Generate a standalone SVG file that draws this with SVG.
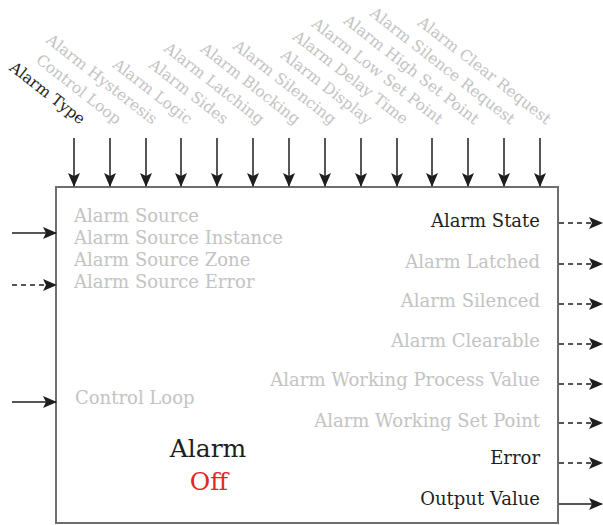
<svg xmlns="http://www.w3.org/2000/svg" width="603" height="525" viewBox="0 0 603 525">
<defs>
<marker id="ah" markerUnits="userSpaceOnUse" markerWidth="14" markerHeight="12" viewBox="0 0 14 12" refX="13" refY="6" orient="auto">
<path d="M0,0 L14,6 L0,12 L3,6 z" fill="#1e1e1e"/>
</marker>
<style>
.t{font-family:"DejaVu Serif","Liberation Serif",serif;font-size:18px}
.r{font-family:"DejaVu Serif","Liberation Serif",serif;font-size:15.5px;text-anchor:end}
.g{fill:#c3c3c3}
.k{fill:#1e1e1e}
.e{text-anchor:end}
.c{stroke:#1e1e1e;stroke-width:1.5;fill:none;marker-end:url(#ah)}
.d{stroke-dasharray:5,4}
</style>
</defs>
<g id="alarm">
<rect x="56" y="187" width="502" height="336" fill="#fff" stroke="#6e6e6e" stroke-width="2"/>
<text class="t g" x="74" y="222">Alarm Source</text>
<text class="t g" x="74" y="244">Alarm Source Instance</text>
<text class="t g" x="74" y="266">Alarm Source Zone</text>
<text class="t g" x="74" y="288">Alarm Source Error</text>
<text class="t g" x="75" y="404">Control Loop</text>
<text class="t k e" x="540" y="227">Alarm State</text>
<text class="t g e" x="540" y="268">Alarm Latched</text>
<text class="t g e" x="540" y="307">Alarm Silenced</text>
<text class="t g e" x="540" y="347">Alarm Clearable</text>
<text class="t g e" x="540" y="386">Alarm Working Process Value</text>
<text class="t g e" x="540" y="427">Alarm Working Set Point</text>
<text class="t k e" x="540" y="464">Error</text>
<text class="t k e" x="540" y="505">Output Value</text>
<text x="208" y="457" text-anchor="middle" font-family="DejaVu Serif, Liberation Serif, serif" font-size="25" fill="#1e1e1e">Alarm</text>
<text x="209" y="490" text-anchor="middle" font-family="DejaVu Serif, Liberation Serif, serif" font-size="25" fill="#e3262b">Off</text>
</g>
<g id="input-labels">
<text class="r k" transform="translate(80,125) rotate(38)">Alarm Type</text>
<text class="r g" transform="translate(116,125) rotate(38)">Control Loop</text>
<text class="r g" transform="translate(152,125) rotate(38)">Alarm Hysteresis</text>
<text class="r g" transform="translate(187,125) rotate(38)">Alarm Logic</text>
<text class="r g" transform="translate(223,125) rotate(38)">Alarm Sides</text>
<text class="r g" transform="translate(259,125) rotate(38)">Alarm Latching</text>
<text class="r g" transform="translate(295,125) rotate(38)">Alarm Blocking</text>
<text class="r g" transform="translate(331,125) rotate(38)">Alarm Silencing</text>
<text class="r g" transform="translate(367,125) rotate(38)">Alarm Display</text>
<text class="r g" transform="translate(403,125) rotate(38)">Alarm Delay Time</text>
<text class="r g" transform="translate(438,125) rotate(38)">Alarm Low Set Point</text>
<text class="r g" transform="translate(474,125) rotate(38)">Alarm High Set Point</text>
<text class="r g" transform="translate(510,125) rotate(38)">Alarm Silence Request</text>
<text class="r g" transform="translate(546,125) rotate(38)">Alarm Clear Request</text>
</g>
<g id="connectors">
<line class="c" x1="74" y1="138" x2="74" y2="186"/>
<line class="c" x1="110" y1="138" x2="110" y2="186"/>
<line class="c" x1="146" y1="138" x2="146" y2="186"/>
<line class="c" x1="181" y1="138" x2="181" y2="186"/>
<line class="c" x1="217" y1="138" x2="217" y2="186"/>
<line class="c" x1="253" y1="138" x2="253" y2="186"/>
<line class="c" x1="289" y1="138" x2="289" y2="186"/>
<line class="c" x1="325" y1="138" x2="325" y2="186"/>
<line class="c" x1="361" y1="138" x2="361" y2="186"/>
<line class="c" x1="397" y1="138" x2="397" y2="186"/>
<line class="c" x1="432" y1="138" x2="432" y2="186"/>
<line class="c" x1="468" y1="138" x2="468" y2="186"/>
<line class="c" x1="504" y1="138" x2="504" y2="186"/>
<line class="c" x1="540" y1="138" x2="540" y2="186"/>
<line class="c" x1="12" y1="233" x2="56" y2="233"/>
<line class="c d" x1="12" y1="285" x2="56" y2="285"/>
<line class="c" x1="12" y1="402" x2="56" y2="402"/>
<line class="c d" x1="559" y1="223" x2="602" y2="223"/>
<line class="c d" x1="559" y1="264" x2="602" y2="264"/>
<line class="c d" x1="559" y1="304" x2="602" y2="304"/>
<line class="c d" x1="559" y1="344" x2="602" y2="344"/>
<line class="c d" x1="559" y1="384" x2="602" y2="384"/>
<line class="c d" x1="559" y1="423" x2="602" y2="423"/>
<line class="c d" x1="559" y1="463" x2="602" y2="463"/>
<line class="c" x1="559" y1="504" x2="602" y2="504"/>
</g>
</svg>
